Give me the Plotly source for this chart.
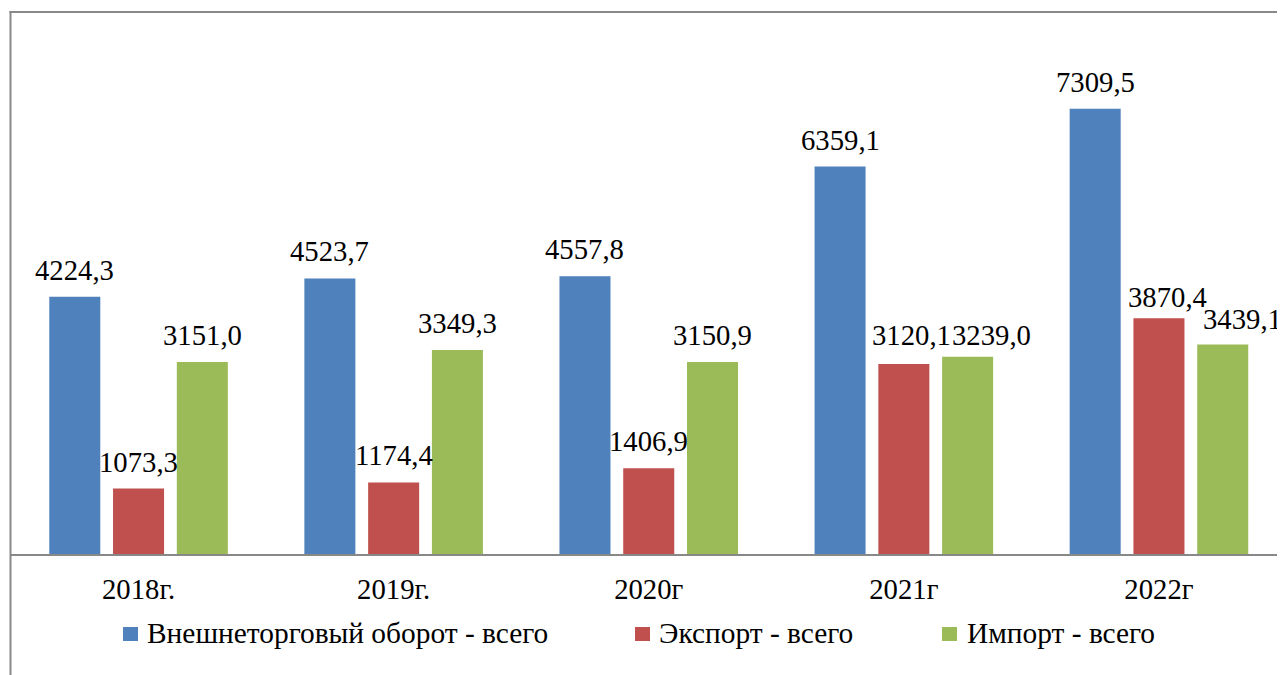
import plotly.graph_objects as go

# ---- data ----
categories = ["2018г.", "2019г.", "2020г", "2021г", "2022г"]
series_names = ["Внешнеторговый оборот - всего", "Экспорт - всего", "Импорт - всего"]
turnover = [4224.3, 4523.7, 4557.8, 6359.1, 7309.5]
export = [1073.3, 1174.4, 1406.9, 3120.1, 3870.4]
imports = [3151.0, 3349.3, 3150.9, 3239.0, 3439.1]

# ---- style ----
colors = ["#4F81BD", "#C0504D", "#9BBB59"]
FONT = "Liberation Serif, Times New Roman, serif"
FS = 28.7
FS_LEG = 29.4
GRAY = "#888888"
OFF = 8  # browser body margin
W, H = 1285 - OFF, 675 - OFF
ML, MR, MT = 11 - OFF, 0, 12 - OFF
PLOT_BOTTOM = 554 - OFF
MB = H - PLOT_BOTTOM
PW, PH = W - ML - MR, PLOT_BOTTOM - MT
CAT_PX = 255.1
YMAX = 8897

# manual nudges of some data labels (px), as in the original picture
label_nudge = {(1, 3): (8, 2), (2, 3): (24, -5), (1, 4): (9, -6), (2, 4): (20, -2)}


def fmt(v):
    return f"{v:.1f}".replace(".", ",")


series = [turnover, export, imports]
fig = go.Figure()
for name, vals, col in zip(series_names, series, colors):
    fig.add_trace(go.Bar(x=categories, y=vals, name=name, marker_color=col,
                         marker_line_width=0, showlegend=False))

annotations = []
offsets = [-0.25, 0.0, 0.25]
for s, vals in enumerate(series):
    for i, v in enumerate(vals):
        dx, dy = label_nudge.get((s, i), (0, 0))
        annotations.append(dict(x=i + offsets[s], y=v, xref="x", yref="y",
                                text=fmt(v), showarrow=False, xanchor="center",
                                yanchor="bottom", xshift=dx, yshift=9 + dy,
                                font=dict(family=FONT, size=FS, color="black")))


def px_x(p):
    return (p - OFF - ML) / PW


def px_y(p):
    return (PLOT_BOTTOM - (p - OFF)) / PH


shapes = []
# manual legend
legend_sq_x = [123, 635, 942]
legend_txt_x = [145, 657, 965]
for name, col, sx, tx in zip(series_names, colors, legend_sq_x, legend_txt_x):
    shapes.append(dict(type="rect", xref="paper", yref="paper",
                       x0=px_x(sx), x1=px_x(sx + 15), y0=px_y(641), y1=px_y(627),
                       fillcolor=col, line_width=0))
    annotations.append(dict(x=px_x(tx), y=px_y(633), xref="paper", yref="paper",
                            text=name, showarrow=False, xanchor="left", yanchor="middle",
                            font=dict(family=FONT, size=FS_LEG, color="black")))

# chart frame (left and top border)
shapes.append(dict(type="line", xref="paper", yref="paper", x0=px_x(10.5), x1=px_x(10.5),
                   y0=px_y(11), y1=px_y(680), line=dict(color=GRAY, width=2)))
shapes.append(dict(type="line", xref="paper", yref="paper", x0=px_x(9.5), x1=px_x(1290),
                   y0=px_y(12), y1=px_y(12), line=dict(color=GRAY, width=2)))

fig.update_layout(
    width=W, height=H,
    margin=dict(l=ML, r=MR, t=MT, b=MB, pad=0),
    paper_bgcolor="white", plot_bgcolor="white",
    barmode="group", bargap=0.25, bargroupgap=0.2,
    annotations=annotations, shapes=shapes,
    font=dict(family=FONT, size=FS, color="black"),
    xaxis=dict(range=[-0.5, -0.5 + PW / CAT_PX], showline=True, linecolor=GRAY,
               linewidth=2, ticks="", showgrid=False, zeroline=False,
               tickfont=dict(family=FONT, size=FS, color="black"),
               ticklabelstandoff=9),
    yaxis=dict(range=[0, YMAX], visible=False, showgrid=False, zeroline=False),
)

fig.write_html("out.html")
